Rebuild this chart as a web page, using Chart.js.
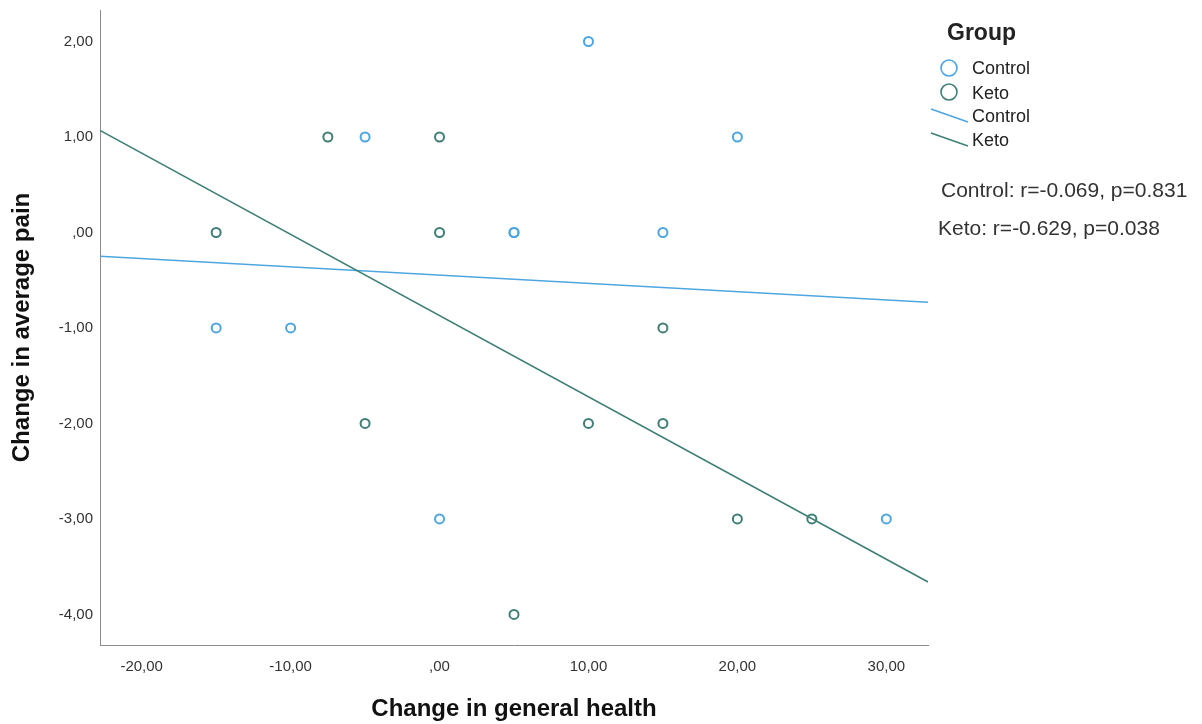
<!DOCTYPE html>
<html>
<head>
<meta charset="utf-8">
<title>Change in general health vs change in average pain</title>
<script src="https://cdn.jsdelivr.net/npm/chart.js@4.4.1/dist/chart.umd.min.js"></script>
<style>
  body { margin: 0; background: #fff; font-family: "Liberation Sans", Arial, sans-serif; color: #333; }
  #wrap { position: relative; width: 1202px; height: 724px; }
  #myChart { display: block; }
  #icons { position: absolute; left: 0; top: 0; }
  .ttl { position: absolute; left: 947px; top: 20px; font-weight: bold; font-size: 23px; line-height: 24px; color: #222; }
  .lab { position: absolute; left: 972px; font-size: 18px; line-height: 20px; color: #222; white-space: nowrap; }
  .stat { position: absolute; font-size: 21px; line-height: 24px; color: #333; white-space: nowrap; }
</style>
</head>
<body>
<div id="wrap">
  <canvas id="myChart" width="1202" height="724"></canvas>
  <svg id="icons" width="1202" height="724">
    <circle cx="949" cy="68" r="8" fill="none" stroke="#4da6e0" stroke-width="1.6"/>
    <circle cx="949" cy="92" r="8" fill="none" stroke="#3f7f75" stroke-width="1.6"/>
    <line x1="931" y1="109" x2="968" y2="122" stroke="#4da6e0" stroke-width="1.6"/>
    <line x1="931" y1="133" x2="968" y2="146" stroke="#3f7f75" stroke-width="1.6"/>
  </svg>
  <div class="ttl">Group</div>
  <div class="lab" style="top:58px">Control</div>
  <div class="lab" style="top:83px">Keto</div>
  <div class="lab" style="top:106px">Control</div>
  <div class="lab" style="top:130px">Keto</div>
  <div class="stat" style="left:941px;top:178px">Control: r=-0.069, p=0.831</div>
  <div class="stat" style="left:938px;top:216px">Keto: r=-0.629, p=0.038</div>
</div>
<script>
// points (x = change in general health, y = change in average pain)
var controlX = [10, -5, 20, 5, 5, 15, -15, -10, 0, 30];
var controlY = [2, 1, 1, 0, 0, 0, -1, -1, -3, -3];
var ketoX = [-7.5, 0, -15, 0, 15, -5, 10, 15, 20, 25, 5];
var ketoY = [1, 1, 0, 0, -1, -2, -2, -2, -3, -3, -4];

// fit lines, ends at the plot edges
var fitX = [-22.8, 32.8];
var controlFitY = [-0.25, -0.73];
var ketoFitY = [1.07, -3.66];

var xTicks = [-20, -10, 0, 10, 20, 30];
var yTicks = [2, 1, 0, -1, -2, -3, -4];

var controlColor = '#4da6e0';
var ketoColor = '#3f7f75';

function pts(xs, ys) {
    return xs.map(function (x, i) { return { x: x, y: ys[i] }; });
}

function fmt(v) {
    if (Math.abs(v) < 1e-9) return ',00';
    return (v < 0 ? '-' : '') + Math.abs(v).toFixed(2).replace('.', ',');
}

var tickFont = { family: '"Liberation Sans", Arial, sans-serif', size: 15 };
var titleFont = { family: '"Liberation Sans", Arial, sans-serif', size: 24, weight: 'bold' };

var ctx = document.getElementById('myChart').getContext('2d');
var chart = new Chart(ctx, {
    type: 'scatter',
    data: {
        datasets: [{
            label: 'Control',
            data: pts(controlX, controlY),
            borderColor: controlColor,
            backgroundColor: 'rgba(0,0,0,0)',
            pointRadius: 4.5,
            pointBorderWidth: 2,
            order: 3
        },
        {
            label: 'Keto',
            data: pts(ketoX, ketoY),
            borderColor: ketoColor,
            backgroundColor: 'rgba(0,0,0,0)',
            pointRadius: 4.5,
            pointBorderWidth: 2,
            order: 2
        },
        {
            label: 'Control fit',
            type: 'line',
            data: pts(fitX, controlFitY),
            borderColor: controlColor,
            borderWidth: 1.5,
            pointRadius: 0,
            fill: false,
            order: 1
        },
        {
            label: 'Keto fit',
            type: 'line',
            data: pts(fitX, ketoFitY),
            borderColor: ketoColor,
            borderWidth: 1.5,
            pointRadius: 0,
            fill: false,
            order: 0
        }]
    },
    options: {
        responsive: false,
        animation: false,
        layout: { padding: { top: 10, right: 274, left: 0, bottom: 0 } },
        plugins: { legend: { display: false }, tooltip: { enabled: false } },
        scales: {
            x: {
                type: 'linear',
                min: -22.8,
                max: 32.8,
                afterBuildTicks: function (s) { s.ticks = xTicks.map(function (v) { return { value: v }; }); },
                afterFit: function (s) { s.height = 79; s.paddingLeft = 0; s.paddingRight = 0; },
                grid: { display: false, drawTicks: false },
                border: { display: true, color: '#8c8c8c', width: 1 },
                ticks: { color: '#333', font: tickFont, padding: 13, maxRotation: 0, callback: function (v) { return fmt(v); } },
                title: { display: true, text: 'Change in general health', color: '#111', font: titleFont, padding: { top: 0, bottom: 0 } }
            },
            y: {
                type: 'linear',
                min: -4.32,
                max: 2.33,
                afterBuildTicks: function (s) { s.ticks = yTicks.map(function (v) { return { value: v }; }); },
                afterFit: function (s) { s.width = 100; s.paddingTop = 0; s.paddingBottom = 0; },
                grid: { display: false, drawTicks: false },
                border: { display: true, color: '#8c8c8c', width: 1 },
                ticks: { color: '#333', font: tickFont, padding: 7, callback: function (v) { return fmt(v); } },
                title: { display: true, text: 'Change in average pain', color: '#111', font: titleFont, padding: { top: 8, bottom: 0 } }
            }
        }
    }
});
</script>
</body>
</html>
